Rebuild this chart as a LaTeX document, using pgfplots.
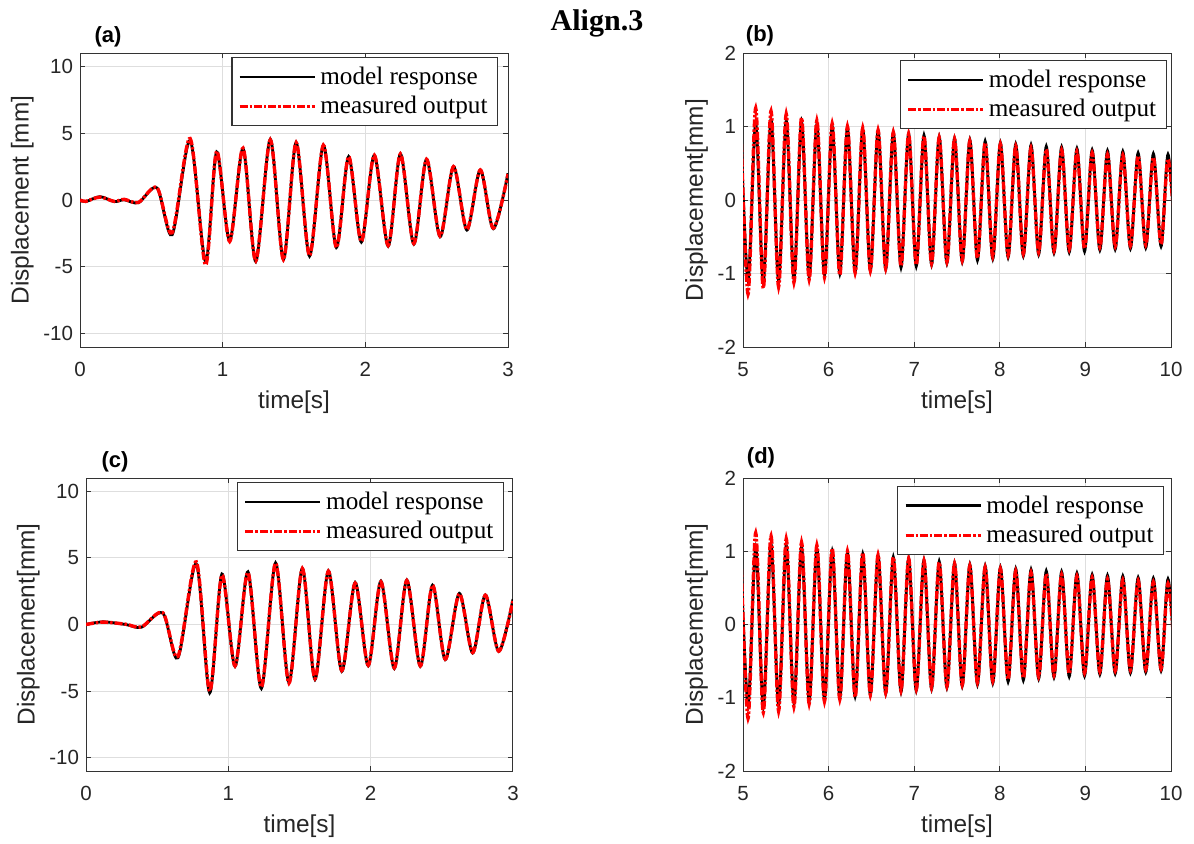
\documentclass[border=0pt]{standalone}
\usepackage{fontspec}
\setmainfont{Liberation Sans}
\newfontfamily\timesf{Liberation Serif}
\usepackage{pgfplots}
\usepackage{pgfplotstable}
\pgfplotsset{compat=1.18}

% panel (a): extremes of the signal, t [s], model, measured [mm]
\pgfplotstableread{
t model meas
0.000 0.00 0.00
0.040 -0.12 -0.10
0.140 0.25 0.22
0.240 -0.12 -0.10
0.310 0.02 0.05
0.410 -0.20 -0.18
0.540 0.90 0.92
0.646 -2.60 -2.45
0.772 4.45 4.60
0.880 -4.60 -4.85
0.958 3.60 3.65
1.049 -3.05 -3.10
1.143 3.85 3.88
1.232 -4.60 -4.55
1.334 4.55 4.50
1.426 -4.45 -4.45
1.515 4.30 4.30
1.609 -4.20 -4.15
1.706 4.10 4.10
1.797 -3.55 -3.55
1.883 3.25 3.25
1.972 -3.15 -3.10
2.063 3.35 3.35
2.160 -3.45 -3.40
2.246 3.45 3.45
2.340 -3.30 -3.25
2.429 3.05 3.05
2.524 -2.75 -2.70
2.618 2.50 2.50
2.712 -2.25 -2.20
2.806 2.25 2.25
2.897 -2.15 -2.10
3.000 2.00 1.95
}\tabA

% panel (c)
\pgfplotstableread{
t model meas
0.000 0.00 0.00
0.120 0.20 0.18
0.280 0.00 0.02
0.390 -0.20 -0.18
0.540 0.85 0.88
0.646 -2.50 -2.40
0.775 4.55 4.70
0.869 -5.13 -5.00
0.955 3.79 3.70
1.047 -3.14 -3.10
1.138 3.96 3.90
1.232 -4.80 -4.70
1.332 4.63 4.60
1.426 -4.35 -4.40
1.520 4.21 4.20
1.609 -4.13 -4.05
1.703 4.03 4.00
1.797 -3.51 -3.45
1.891 3.16 3.10
1.983 -3.10 -3.05
2.072 3.26 3.20
2.166 -3.30 -3.25
2.254 3.34 3.30
2.349 -3.14 -3.10
2.435 2.96 2.95
2.524 -2.64 -2.60
2.623 2.34 2.30
2.717 -2.14 -2.10
2.806 2.22 2.20
2.900 -2.02 -2.00
3.000 1.90 1.84
}\tabC

% panels (b) and (d)
\pgfplotstableread{
t model meas
4.970 1.05 1.15
5.059 -1.10 -1.28
5.148 1.05 1.25
5.237 -1.12 -1.20
5.327 1.10 1.21
5.416 -1.10 -1.18
5.505 1.08 1.17
5.595 -1.07 -1.12
5.684 1.06 1.12
5.773 -1.04 -1.08
5.863 1.03 1.08
5.952 -1.02 -1.05
6.042 1.00 1.04
6.131 -1.00 -1.02
6.220 0.98 1.00
6.310 -0.98 -0.99
6.399 0.96 0.98
6.488 -0.96 -0.96
6.578 0.94 0.95
6.667 -0.94 -0.93
6.756 0.92 0.92
6.846 -0.92 -0.90
6.935 0.90 0.90
7.024 -0.90 -0.88
7.114 0.88 0.87
7.203 -0.88 -0.86
7.292 0.86 0.85
7.382 -0.86 -0.84
7.471 0.84 0.83
7.561 -0.84 -0.82
7.650 0.82 0.80
7.739 -0.82 -0.79
7.829 0.80 0.78
7.918 -0.80 -0.77
8.007 0.78 0.76
8.097 -0.78 -0.75
8.186 0.76 0.73
8.275 -0.76 -0.73
8.365 0.75 0.71
8.454 -0.74 -0.71
8.543 0.73 0.69
8.633 -0.72 -0.69
8.722 0.72 0.68
8.811 -0.71 -0.67
8.901 0.70 0.66
8.990 -0.70 -0.66
9.079 0.68 0.64
9.169 -0.68 -0.64
9.258 0.67 0.62
9.348 -0.67 -0.63
9.437 0.66 0.61
9.526 -0.66 -0.62
9.616 0.64 0.60
9.705 -0.65 -0.61
9.794 0.63 0.58
9.884 -0.63 -0.60
9.965 0.62 0.56
10.054 -0.62 -0.58
}\tabB

\pgfplotsset{
  matlab/.style={
    scale only axis, width=214pt, height=147pt, anchor=south west,
    axis line style={draw=black!80, line width=0.5pt},
    grid=major, major grid style={draw=black!13, line width=0.5pt},
    tick align=inside, major tick length=2.5pt,
    every tick/.style={draw=black!80, line width=0.5pt},
    tick pos=both,
    ticklabel style={font=\fontsize{10.25}{12}\selectfont, text=black!85},
    xticklabel style={yshift=-4pt},
    /pgf/number format/assume math mode=true,
    label style={font=\fontsize{12.2}{14}\selectfont, text=black!85},
    ylabel style={yshift=-2pt},
    legend cell align=left,
    legend style={font=\timesf\fontsize{12.6}{14.5}\selectfont, draw=black!80,
      line width=0.6pt, anchor=north east, inner xsep=3pt, inner ysep=2.5pt, row sep=0.5pt},
    legend image code/.code={\draw[#1] (0pt,0pt) -- (37.5pt,0pt);},
    clip mode=individual,
  },
  modelline/.style={black, line width=1.4pt, smooth},
  measline/.style={red, line width=1.7pt, smooth, dash pattern=on 4pt off 1pt on 1.2pt off 1pt},
}

\begin{document}
\begin{tikzpicture}
\useasboundingbox (0,0) rectangle (597pt,-421.5pt);
\node[font=\timesf\bfseries\fontsize{15}{18}\selectfont, anchor=base] at (298.5pt,-15pt) {Align.3};

% (a)
\begin{axis}[matlab, at={(40pt,-173.5pt)}, xmin=0, xmax=3, ymin=-11, ymax=11,
  xtick={0,1,2,3}, ytick={-10,-5,0,5,10}, xlabel={time[s]}, ylabel={Displacement [mm]},
  legend style={at={(0.977,0.986)}}]
\addplot[modelline] table[x=t,y=model]{\tabA};
\addplot[measline] table[x=t,y=meas]{\tabA};
\legend{model response, measured output}
\end{axis}

% (b)
\begin{axis}[matlab, at={(371.5pt,-173.5pt)}, xmin=5, xmax=10, ymin=-2, ymax=2,
  xtick={5,6,7,8,9,10}, ytick={-2,-1,0,1,2}, xlabel={time[s]}, ylabel={Displacement[mm]},
  legend style={at={(0.99,0.976)}}]
\addplot[modelline] table[x=t,y=model]{\tabB};
\addplot[measline] table[x=t,y=meas]{\tabB};
\legend{model response, measured output}
\end{axis}

% (c)
\begin{axis}[matlab, at={(43pt,-385.5pt)}, width=213.5pt, height=146.5pt, xmin=0, xmax=3, ymin=-11, ymax=11,
  xtick={0,1,2,3}, ytick={-10,-5,0,5,10}, xlabel={time[s]}, ylabel={Displacement[mm]},
  legend style={at={(0.979,0.986)}}]
\addplot[modelline] table[x=t,y=model]{\tabC};
\addplot[measline] table[x=t,y=meas]{\tabC};
\legend{model response, measured output}
\end{axis}

% (d)
\begin{axis}[matlab, at={(371.5pt,-385.5pt)}, height=146.5pt, xmin=5, xmax=10, ymin=-2, ymax=2,
  xtick={5,6,7,8,9,10}, ytick={-2,-1,0,1,2}, xlabel={time[s]}, ylabel={Displacement[mm]},
  legend style={at={(0.984,0.973)}}]
\addplot[modelline] table[x=t,y=model]{\tabB};
\addplot[measline] table[x=t,y=meas]{\tabB};
\legend{model response, measured output}
\end{axis}

\node[font=\bfseries\fontsize{11}{13}\selectfont] at (54pt,-18.3pt) {(a)};
\node[font=\bfseries\fontsize{11}{13}\selectfont] at (380pt,-18pt) {(b)};
\node[font=\bfseries\fontsize{11}{13}\selectfont] at (57.5pt,-231pt) {(c)};
\node[font=\bfseries\fontsize{11}{13}\selectfont] at (380.5pt,-229pt) {(d)};
\end{tikzpicture}
\end{document}
